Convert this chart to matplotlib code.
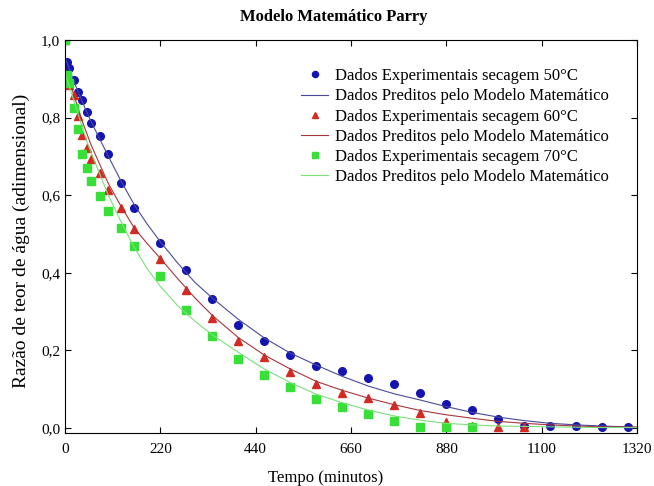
import matplotlib
matplotlib.use("Agg")
import matplotlib.pyplot as plt
from matplotlib.ticker import FuncFormatter

plt.rcParams['font.family'] = ['Liberation Serif', 'DejaVu Serif']

# experimental points (time in minutes, moisture ratio)
times_50 = [0, 5, 10, 20, 30, 40, 50, 60, 80, 100, 130, 160, 220, 280, 340, 400,
            460, 520, 580, 640, 700, 760, 820, 880, 940, 1000, 1060, 1120, 1180, 1240, 1300]
mr_50 = [1.0, 0.944, 0.929, 0.897, 0.867, 0.845, 0.815, 0.787, 0.753, 0.705, 0.632,
         0.568, 0.478, 0.407, 0.332, 0.266, 0.225, 0.189, 0.161, 0.148, 0.128, 0.113,
         0.089, 0.062, 0.046, 0.024, 0.005, 0.004, 0.004, 0.003, 0.003]

times_60 = [0, 5, 10, 20, 30, 40, 50, 60, 80, 100, 130, 160, 220, 280, 340, 400,
            460, 520, 580, 640, 700, 760, 820, 880, 940, 1000, 1060]
mr_60 = [1.0, 0.91, 0.885, 0.857, 0.804, 0.754, 0.722, 0.693, 0.658, 0.613, 0.566,
         0.512, 0.435, 0.356, 0.283, 0.224, 0.184, 0.145, 0.113, 0.091, 0.076, 0.058,
         0.038, 0.016, 0.004, 0.003, 0.003]

times_70 = [0, 5, 10, 20, 30, 40, 50, 60, 80, 100, 130, 160, 220, 280, 340, 400,
            460, 520, 580, 640, 700, 760, 820, 880, 940]
mr_70 = [1.0, 0.91, 0.89, 0.826, 0.77, 0.706, 0.669, 0.637, 0.598, 0.56, 0.515,
         0.469, 0.392, 0.304, 0.237, 0.177, 0.137, 0.105, 0.074, 0.055, 0.035, 0.019,
         0.002, 0.002, 0.002]

# predicted curves
t_model = [0, 10, 20, 30, 40, 50, 60, 80, 100, 130, 160, 190, 220, 260, 300, 340, 400,
           460, 520, 580, 640, 700, 760, 820, 880, 940, 1000, 1060, 1120, 1180, 1240, 1320]
pred_50 = [0.955, 0.925, 0.895, 0.867, 0.84, 0.815, 0.79, 0.745, 0.70, 0.635, 0.575,
           0.525, 0.48, 0.425, 0.375, 0.335, 0.28, 0.232, 0.193, 0.162, 0.133, 0.108,
           0.088, 0.072, 0.055, 0.04, 0.028, 0.019, 0.012, 0.008, 0.005, 0.002]
pred_60 = [0.93, 0.895, 0.86, 0.825, 0.79, 0.76, 0.73, 0.68, 0.63, 0.57, 0.515,
           0.475, 0.437, 0.385, 0.335, 0.29, 0.233, 0.188, 0.152, 0.12, 0.097, 0.077,
           0.06, 0.045, 0.034, 0.025, 0.017, 0.012, 0.008, 0.005, 0.003, 0.002]
pred_70 = [0.915, 0.88, 0.845, 0.81, 0.775, 0.74, 0.71, 0.655, 0.60, 0.53, 0.465,
           0.41, 0.365, 0.315, 0.275, 0.24, 0.195, 0.152, 0.117, 0.087, 0.065, 0.046,
           0.031, 0.02, 0.012, 0.008, 0.005, 0.004, 0.003, 0.002, 0.001, 0.001]

x_ticks = [0, 220, 440, 660, 880, 1100, 1320]
y_ticks = [0.0, 0.2, 0.4, 0.6, 0.8, 1.0]

fig = plt.figure(figsize=(6.54, 4.86), dpi=100)
ax = fig.add_axes([0.0994, 0.109, 0.8746, 0.8087])

ax.plot(times_50, mr_50, 'o', color='#1414b0', ms=5.5, label='Dados Experimentais secagem 50°C')
ax.plot(t_model, pred_50, '-', color='#4a4a9c', lw=0.8, label='Dados Preditos pelo Modelo Matemático')
ax.plot(times_60, mr_60, '^', color='#d42a22', ms=6, label='Dados Experimentais secagem 60°C')
ax.plot(t_model, pred_60, '-', color='#a8343c', lw=0.8, label='Dados Preditos pelo Modelo Matemático')
ax.plot(times_70, mr_70, 's', color='#36e036', ms=5.5, label='Dados Experimentais secagem 70°C')
ax.plot(t_model, pred_70, '-', color='#7ae07a', lw=0.8, label='Dados Preditos pelo Modelo Matemático')

ax.set_xlim(0, 1320)
ax.set_ylim(-0.013, 1.0)
ax.set_xticks(x_ticks)
ax.set_yticks(y_ticks)
ax.yaxis.set_major_formatter(FuncFormatter(lambda v, p: f"{v:.1f}".replace('.', ',')))
ax.tick_params(direction='in', top=True, right=True, length=4, labelsize=11)
ax.tick_params(axis='x', pad=7)

ax.set_title("Modelo Matemático Parry", fontsize=12, fontweight='bold', pad=14, x=0.469)
ax.set_xlabel("Tempo (minutos)", fontsize=12)
ax.xaxis.set_label_coords(0.455, -0.095)
ax.set_ylabel("Razão de teor de água (adimensional)", fontsize=14)
ax.yaxis.set_label_coords(-0.061, 0.49)

ax.legend(loc='upper left', bbox_to_anchor=(0.393, 0.958), frameon=False, fontsize=12,
          handlelength=1.6, handletextpad=0.4, labelspacing=0.25, markerscale=0.8,
          borderpad=0.2)

fig.savefig("out.png", dpi=100)
